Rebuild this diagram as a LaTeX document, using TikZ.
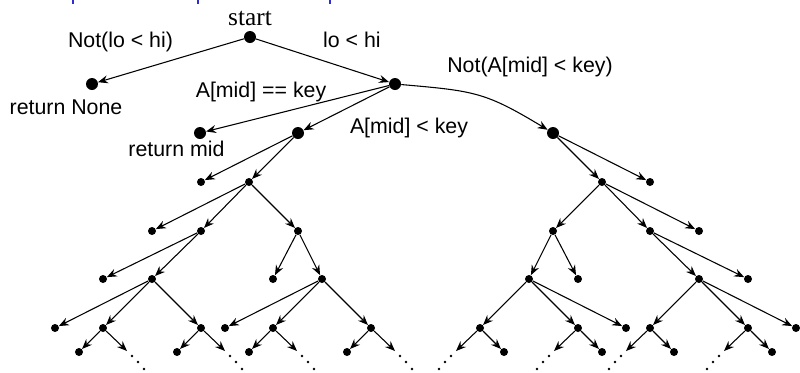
\documentclass[tikz,border=0pt]{standalone}
\usepackage{fontspec}
\setmainfont{Liberation Sans}
\newfontfamily\serifstart{Liberation Serif}
\usetikzlibrary{arrows.meta}
\definecolor{titleblue}{RGB}{45,45,210}

\begin{document}
\begin{tikzpicture}[x=0.75pt,y=-0.75pt,
  big/.style={circle,fill,inner sep=0pt,minimum size=9pt},
  dot/.style={circle,fill,inner sep=0pt,minimum size=6pt},
  arr/.style={-{Stealth[length=7.5pt,width=6pt,inset=2.5pt]},line width=0.8pt},
  lbl/.style={anchor=base,inner sep=0pt,font=\fontsize{16}{19}\selectfont}]
\useasboundingbox (0,0) rectangle (800,372);

% descenders of the heading above
\foreach \x in {73,198,330}
  \fill[titleblue] ({\x-1},0) rectangle ({\x+1},3.5);

% top of the search
\node[big] (s)  at (250,37) {};
\node[big] (rn) at (92,84) {};
\node[big] (a)  at (395,84) {};
\node[big] (rm) at (200,133) {};
\node[big] (L)  at (298,133) {};
\node[big] (R)  at (553,133) {};

% left subtree
\node[dot] (l1)  at (201,182) {};
\node[dot] (l2)  at (249,182) {};
\node[dot] (l2a) at (152,231) {};
\node[dot] (l3)  at (201,231) {};
\node[dot] (l4)  at (298,231) {};
\node[dot] (l3a) at (103,279) {};
\node[dot] (l5)  at (152,279) {};
\node[dot] (l4a) at (273,279) {};
\node[dot] (l6)  at (322,279) {};
\node[dot] (l5a) at (55,328) {};
\node[dot] (l7)  at (103,328) {};
\node[dot] (l8)  at (201,328) {};
\node[dot] (l6a) at (225,328) {};
\node[dot] (l9)  at (273,328) {};
\node[dot] (l10) at (371,328) {};
\node[dot] (l7a)  at (79,352) {};
\node[dot] (l8a)  at (177,352) {};
\node[dot] (l9a)  at (249,352) {};
\node[dot] (l10a) at (347,352) {};

% right subtree
\node[dot] (r1)  at (650,182) {};
\node[dot] (r2)  at (602,182) {};
\node[dot] (r2a) at (699,231) {};
\node[dot] (r3)  at (650,231) {};
\node[dot] (r4)  at (553,231) {};
\node[dot] (r3a) at (748,279) {};
\node[dot] (r5)  at (699,279) {};
\node[dot] (r4a) at (578,279) {};
\node[dot] (r6)  at (529,279) {};
\node[dot] (r5a) at (796,328) {};
\node[dot] (r7)  at (748,328) {};
\node[dot] (r8)  at (650,328) {};
\node[dot] (r6a) at (626,328) {};
\node[dot] (r9)  at (578,328) {};
\node[dot] (r10) at (480,328) {};
\node[dot] (r7a)  at (772,352) {};
\node[dot] (r8a)  at (674,352) {};
\node[dot] (r9a)  at (602,352) {};
\node[dot] (r10a) at (504,352) {};

% edges
\draw[arr] (s) -- (rn);
\draw[arr] (s) -- (a);
\draw[arr] (a) -- (rm);
\draw[arr] (a) -- (L);
\draw[arr] (a) .. controls (475,91) and (485,92) .. (R);
\foreach \p/\c in {L/l1,L/l2,l2/l2a,l2/l3,l2/l4,l3/l3a,l3/l5,l4/l4a,l4/l6,
                   l5/l5a,l5/l7,l5/l8,l6/l6a,l6/l9,l6/l10,
                   l7/l7a,l8/l8a,l9/l9a,l10/l10a,
                   R/r1,R/r2,r2/r2a,r2/r3,r2/r4,r3/r3a,r3/r5,r4/r4a,r4/r6,
                   r5/r5a,r5/r7,r5/r8,r6/r6a,r6/r9,r6/r10,
                   r7/r7a,r8/r8a,r9/r9a,r10/r10a}
  \draw[arr] (\p) -- (\c);

% continuations at the bottom
\foreach \n/\x in {7/103,8/201,9/273,10/371} {
  \coordinate (lc\n) at ({\x+24},351);
  \draw[arr] (l\n) -- (lc\n);
  \foreach \d/\yy in {29/356,35/362,41/369}
    \fill ({\x+\d},\yy) circle (1pt);
}
\foreach \n/\x in {7/748,8/650,9/578,10/480} {
  \coordinate (rc\n) at ({\x-24},351);
  \draw[arr] (r\n) -- (rc\n);
  \foreach \d/\yy in {29/356,35/362,41/369}
    \fill ({\x-\d},\yy) circle (1pt);
}

% labels
\node[lbl] (tstart) at (250,25) {\serifstart\fontsize{19}{22}\selectfont start};
\node[lbl] (t1) at (120.5,47.5) {Not(lo < hi)};
\node[lbl] (t2) at (352,47) {lo < hi};
\node[lbl] (t3) at (66,114.5) {return None};
\node[lbl] (t4) at (261,97) {A[mid] == key};
\node[lbl] (t5) at (176.5,156.5) {return mid};
\node[lbl] (t6) at (409,133) {A[mid] < key};
\node[lbl] (t7) at (530,72) {Not(A[mid] < key)};
\end{tikzpicture}
\end{document}
